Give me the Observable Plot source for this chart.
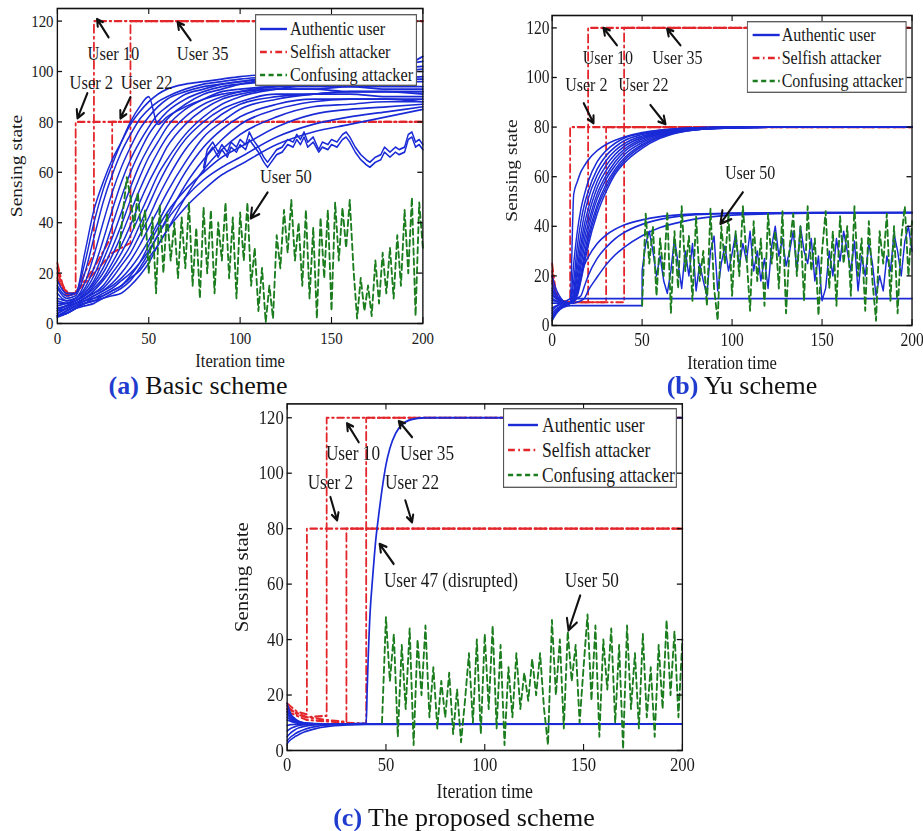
<!DOCTYPE html>
<html><head><meta charset="utf-8">
<script src="https://cdn.jsdelivr.net/npm/d3@7"></script>
<script src="https://cdn.jsdelivr.net/npm/@observablehq/plot@0.6"></script>
<style>
body{margin:0;background:#fff;}
#root{position:relative;width:923px;height:831px;overflow:hidden;background:#fff;font-family:"Liberation Serif","Times New Roman",serif;}
.panel{position:absolute;transform:scaleX(0.85);transform-origin:0 0;}
.panel svg{overflow:visible;}
.cap{position:absolute;font-size:26px;line-height:26px;color:#111;white-space:nowrap;transform:translateX(-50%);}
.cap b{color:#1f3ccf;}
</style></head><body><div id="root"></div>
<script>
// ---------- shared ----------
const xTicks = [0, 50, 100, 150, 200];
const yTicks = [0, 20, 40, 60, 80, 100, 120];
const legendLabels = ["Authentic user", "Selfish attacker", "Confusing attacker"];
const captionTags = ["(a)", "(b)", "(c)"];
const captionTexts = ["Basic scheme", "Yu scheme", "The proposed scheme"];

// ---------- panel (a) Basic scheme ----------
const gridA = [0,5,10,15,20,25,30,35,40,45,50,55,60,70,80,90,100,120,140,160,180,200];
const authenticA = [
  [17,12,12,28,45,56,65,72,79,84,88,91,93,95,96,97,98,99,100,101,102,104],
  [15,11,12,24,40,53,63,72,80,86,90,79,82,86,89,91,92,93,93,94,94,94],
  [14,10,11,20,34,48,59,68,75,81,85,88,90,93,95,96,97,98,99,100,100,101],
  [12,9,10,16,27,40,52,62,70,77,82,86,89,92,94,95,96,97,97,97,97,97],
  [10,9,10,14,22,33,45,56,65,72,78,83,86,91,93,95,96,98,99,100,101,102],
  [9,8,10,13,19,28,39,50,60,68,75,80,84,89,92,94,95,96,96,96,96,96],
  [8,8,9,12,17,25,34,44,54,63,70,76,81,87,91,93,95,97,98,99,100,100],
  [7,8,9,12,16,22,30,39,49,58,66,72,78,85,89,92,93,94,94,94,93,93],
  [6,7,9,11,15,20,27,35,44,53,61,68,74,82,87,90,92,94,95,96,97,98],
  [6,7,9,11,14,18,24,31,39,48,56,63,70,79,85,89,91,93,93,92,92,91],
  [5,7,8,10,13,17,22,28,35,43,51,59,65,75,82,87,90,93,95,97,99,106],
  [5,6,8,10,12,15,20,25,31,39,47,55,62,73,80,85,88,91,91,91,90,90],
  [4,6,8,10,12,14,18,23,28,35,42,50,57,69,77,83,87,90,91,92,92,92],
  [4,6,8,9,11,13,16,20,25,31,38,45,52,64,74,80,85,89,91,92,92,92],
  [3,5,7,9,11,13,15,18,22,27,33,40,47,60,70,77,82,87,89,89,89,89],
  [3,5,7,9,10,12,14,17,20,24,29,35,42,55,65,73,79,85,88,89,89,88],
  [3,5,7,8,10,11,13,15,18,21,26,31,37,50,61,69,75,82,86,87,88,88],
  [3,4,6,8,9,11,13,15,19,24,31,38,44,53,60,66,70,78,83,85,86,87],
  [3,4,6,8,9,10,12,14,17,22,28,35,41,50,57,62,66,74,79,82,84,86],
  [2.5,4,6,7,8,10,11,12,15,19,24,31,37,46,53,59,63,71,76,79,82,85]
];
const jaggedXA = [80,82,85,88,90,93,95,98,100,103,105,107,110,113,115,117,120,123,126,129,131,133,135,137,140,143,145,148,150,153,156,158,160,163,166,169,171,174,177,179,182,185,187,190,192,194,196,198,200];
const jaggedY1A = [62,69,72,68,71,68,72,70,73,71,76,73,70,66,64,66,69,70,73,72,75,73,76,72,74,69,72,71,73,72,75,76,74,70,67,65,64,66,67,70,68,70,69,70,75,76,72,73,71];
const jaggedY2A = [60,67,70,66,69,66,70,68,71,69,73,71,68,64,62,64,67,68,71,70,73,71,74,70,72,68,70,69,71,70,73,74,72,68,65,63,62,64,65,68,66,68,67,68,73,74,70,71,69];
const selfishXA = [[0,3,6,10,10,200],[0,3,6,10,15,20,20,200],[0,5,10,20,30,30,200],[0,5,10,20,30,40,40,200]];
const selfishYA = [[24,15,12,12,80,80],[22,14,11,12,20,28,120,120],[20,12,12,22,35,80,80],[18,11,12,20,28,32,120,120]];
const confusingStartA = 34;
const confusingA = [30,45,58,
  50,38,52,35,45, 20,42,12,47,20, 44,25,40,18,42, 22,48,15,38,10, 46,20,45,12,40,
  25,48,18,42,10, 44,25,48,15,30, 5,22,0.5,15,2, 35,22,45,28,49, 25,40,15,45,10,
  38,2,42,18,45, 5,48,25,46,30, 49,22,2,18,5, 15,3,25,8,28, 12,30,10,35,15,
  45,20,50,3,48, 30];
const noteLabelsA = ["User 10","User 35","User 2","User 22","User 50"];
const noteXA = [30.7,79.5,18.6,48.8,125];
const noteYA = [107,107,95.7,95.7,58.4];
const arrowFromXA = [28,72.9,16.4,40,115];
const arrowFromYA = [113.6,112.4,91.4,89.8,52];
const arrowToXA = [21.7,65.8,11,34.5,105.8];
const arrowToYA = [120.8,119.6,81.4,81.4,41.7];

// ---------- panel (b) Yu scheme ----------
const gridB = [0,2,4,6,8,10,12,14,16,18,20,25,30,35,40,50,60,70,80,100,120,150,200];
const authenticB = [
  [20,15,12,10,9.2,9,53,58,62,64.5,66.7,70.5,73,74.7,76,77.8,78.8,79.4,79.7,80,80,80,80],
  [17,13,11,9.8,9.2,9,25,38,47,53,58,66,70.5,73.5,75.5,77.5,78.7,79.3,79.7,80,80,80,80],
  [15,12,10.5,9.6,9.2,9,18,32,42,49,54,63,68.5,72,74.5,77,78.4,79.2,79.6,80,80,80,80],
  [13,11,10,9.4,9.1,9,14,27,37,45,51,60.5,66.5,70.5,73.3,76.4,78.1,79,79.5,79.9,80,80,80],
  [11,10,9.5,9.2,9,9,12,23,33,41,47,58,64.5,69,72.2,75.8,77.8,78.9,79.4,79.9,80,80,80],
  [9,9,9,9,9,9,11,20,30,38,44,55.5,62.5,67.5,71,75.2,77.5,78.7,79.3,79.8,80,80,80],
  [7,7.8,8.4,8.7,8.9,9,10,17,27,35,41,53,60.5,66,70,74.5,77.2,78.6,79.2,79.8,80,80,80],
  [5,6.5,7.6,8.3,8.7,9,10,15,24,32,38.5,51,59,64.5,68.8,73.8,76.8,78.4,79.1,79.8,80,80,80],
  [4,5.8,7,7.9,8.5,9,10,14,21,29,36,48.5,57,63,67.5,73,76.4,78.2,79,79.7,80,80,80],
  [3,5,6.5,7.6,8.4,9,10,13,19,27,34,47,55.5,62,66.5,72.3,76,78,78.9,79.7,80,80,80],
  [2,4.5,6.2,7.4,8.3,9,10,12,18,25,32,45,54,61,65.5,71.5,75.5,77.8,79,79.7,80,80,80],
  [14,12,10.5,9.8,9.3,9,10,14,20,24.5,27.5,33,36.5,38.8,40.5,42.6,43.9,44.6,45,45.3,45.4,45.5,45.5],
  [12,11,10,9.5,9.2,9,9.5,11,12,16,20,27,31.5,35,37.5,40.8,42.8,44,44.7,45.2,45.4,45.5,45.5],
  [10,9.8,9.5,9.3,9.1,9,9,9.5,10,11,14,19.5,24.5,28.5,31.5,36.2,39.5,41.5,43,44.5,45,45.3,45.5]
];
const flatXB = [0,2,4,6,8,10,200];
const flatYB = [6,7.5,8.5,9.3,10,10.8,10.8];
const user50HeadXB = [0,2,4,6,8,10,50];
const user50HeadYB = [3,5,6.5,7.3,7.8,8,8];
const user50StartB = 50;
const user50NoisyB = [22,33,38,30,20, 28,18,13,22,35, 25,15,30,20,33, 14,25,18,12,30,
  36,14,25,32,22, 29,37,24,33,26, 38,22,30,18,27, 15,32,40,28,35, 24,30,38,22,40,
  30,25,35,18,28, 10,15,30,20,35, 26,38,30,22,34, 14,28,20,33,25, 12,20,14,28,22,
  37,30,20,34,40, 30];
const selfishXB = [[0,2,5,10,10,200],[0,2,5,10,20,20,200],[0,2,5,10,30,30,200],[0,2,5,10,40,40,200]];
const selfishYB = [[25,14,10,9.4,80,80],[22,13,10,9.4,9.4,120,120],[20,12,9.5,9.4,9.4,80,80],[18,11,9.5,9.4,9.4,120,120]];
const confusingStartB = 50;
const confusingB = [8,45,25,40,12, 35,20,46,5,38, 15,48,22,36,10, 44,18,30,8,47,
  15,2,40,25,45, 12,38,20,48,28, 6,42,18,35,8, 45,25,38,15,46, 5,32,45,20,40,
  10,48,22,35,4, 30,46,15,38,8, 44,25,40,12,48, 20,35,6,42,18, 2,38,25,45,10,
  40,5,35,48,20, 42];
const noteLabelsB = ["User 10","User 35","User 2","User 22","User 50"];
const noteXB = [31,69.6,19,50.7,110];
const noteYB = [108,108,97,97,61.6];
const arrowFromXB = [36,71.3,17.6,54.6,106];
const arrowFromYB = [113,113,89.6,88.9,53.7];
const arrowToXB = [28.5,63.9,23,63,93.5];
const arrowToYB = [120,119.6,81.6,81.2,41];

// ---------- panel (c) The proposed scheme ----------
const gridC = [0,2,4,6,8,10,15,20,30,40,200];
const authenticC = [
  [17,13,11.5,10.5,10,9.8,9.6,9.5,9.5,9.5,9.5],
  [15,12.5,11,10.3,10,9.8,9.6,9.5,9.5,9.5,9.5],
  [14,12,10.8,10.2,9.9,9.7,9.5,9.5,9.5,9.5,9.5],
  [13,11.5,10.5,10,9.8,9.6,9.5,9.5,9.5,9.5,9.5],
  [11,10.5,10,9.8,9.6,9.5,9.5,9.5,9.5,9.5,9.5],
  [9,9.3,9.4,9.5,9.5,9.5,9.5,9.5,9.5,9.5,9.5],
  [7,8,8.6,9,9.2,9.3,9.4,9.5,9.5,9.5,9.5],
  [5,6.5,7.5,8.2,8.6,8.9,9.3,9.4,9.5,9.5,9.5],
  [3.5,5,6,6.8,7.4,7.9,8.7,9.1,9.4,9.5,9.5],
  [2.5,4,5,5.8,6.5,7,8,8.6,9.2,9.4,9.5]
];
const user47XC = [0,2,4,6,8,10,15,20,30,40,40.5,41,42,43,44,45,46,48,50,52,55,58,62,66,70,80,200];
const user47YC = [12,11,10.5,10.2,10,9.8,9.6,9.5,9.5,9.8,22,33,50,60,69,77,83,94,103,109,114.5,117.5,119.2,119.8,120,120,120];
const selfishXC = [[0,5,10,10,200],[0,5,10,20,20,200],[0,10,20,30,30,200],[0,10,20,30,40,40,200]];
const selfishYC = [[17,14,13,80,80],[16,13,12,12.5,120,120],[15,12,11,10.3,80,80],[14,11,10.5,10,9.7,120,120]];
const confusingStartC = 48;
const confusingC = [10,
  48,25,42,5,38, 15,44,2,40,20, 45,12,30,8,25, 12,28,6,22,3, 18,35,10,40,6,
  42,15,45,8,38, 2,30,12,35,15, 28,18,33,20,35, 15,2,47,20,40, 8,43,25,38,10,
  30,49,18,45,5, 40,22,44,10,38, 0.5,45,15,35,8, 42,12,30,5,38, 15,47,20,43,12,
  40];
const noteLabelsC = ["User 10","User 35","User 2","User 22","User 47 (disrupted)","User 50"];
const noteXC = [33.3,70.8,21.9,63.2,82.9,154.2];
const noteYC = [107,107,96.8,96.8,61.3,61.3];
const arrowFromXC = [36.2,63.2,21.9,59.8,53.9,148.3];
const arrowFromYC = [111.2,113,91.4,90.2,67.3,55.9];
const arrowToXC = [30.3,56.5,25.3,63.2,46.8,142.4];
const arrowToYC = [118,118.8,83,82.3,74.5,43.3];

// ---------- drawing ----------
const SERIF = '"Liberation Serif","Times New Roman",serif';
const BLUE = "#1a2ad6", RED = "#e3262b", GREEN = "#1c7d1f";
const RED_DASH = "8,4,2,4", GREEN_DASH = "6,4";
const legendColors = [BLUE, RED, GREEN];
const legendDash = [null, RED_DASH, GREEN_DASH];

function pathsToRows(xss, yss) {
  return xss.flatMap((xs, i) => xs.map((x, j) => ({x, y: yss[i][j], id: i})));
}
function gridToRows(grid, curves) {
  return curves.flatMap((ys, i) => ys.map((y, j) => ({x: grid[j], y, id: i})));
}
function stepToRows(start, ys) {
  return ys.map((y, j) => ({x: start + 2 * j, y}));
}

function legendNode(lg) {
  const svg = d3.create("svg").attr("width", lg.w).attr("height", lg.h)
    .style("position", "absolute").style("left", lg.left + "px").style("top", lg.top + "px");
  svg.append("rect").attr("x", 0.7).attr("y", 0.7).attr("width", lg.w - 1.4).attr("height", lg.h - 1.4)
    .attr("fill", "#fff").attr("stroke", "#555").attr("stroke-width", 1.3);
  legendLabels.forEach((t, i) => {
    const y = lg.rows[i];
    const ln = svg.append("line").attr("x1", lg.l1).attr("x2", lg.l2).attr("y1", y).attr("y2", y)
      .attr("stroke", legendColors[i]).attr("stroke-width", 2.4);
    if (legendDash[i]) ln.attr("stroke-dasharray", legendDash[i]);
    svg.append("text").attr("x", lg.tx).attr("y", y).attr("dy", "0.33em")
      .attr("font-size", lg.fs).attr("font-family", SERIF).attr("fill", "#1a1a1a").text(t);
  });
  return svg.node();
}

function buildPanel(p) {
  const innerW = p.width - p.ml - p.mr, innerH = p.height - p.mt - p.mb;
  const notes = p.noteLabels.map((t, i) => ({t, tx: p.noteX[i], ty: p.noteY[i],
    x1: p.fromX[i], y1: p.fromY[i], x2: p.toX[i], y2: p.toY[i]}));
  const tickStyle = {stroke: "#111", strokeWidth: 1.3};
  const plot = Plot.plot({
    width: p.width, height: p.height,
    marginLeft: p.ml, marginRight: p.mr, marginTop: p.mt, marginBottom: p.mb,
    style: {fontFamily: SERIF, color: "#1a1a1a", background: "transparent", overflow: "visible"},
    x: {domain: [0, 200]},
    y: {domain: [0, 125]},
    marks: [
      Plot.line(p.red, {x: "x", y: "y", z: "id", stroke: RED, strokeWidth: 2.1, strokeDasharray: RED_DASH}),
      Plot.line(p.blue, {x: "x", y: "y", z: "id", stroke: BLUE, strokeWidth: 1.7, curve: "monotone-x"}),
      ...p.extra,
      Plot.line(p.green, {x: "x", y: "y", stroke: GREEN, strokeWidth: 2.2, strokeDasharray: GREEN_DASH}),
      Plot.ruleX(xTicks, {x: d => d, insetTop: innerH - 6, ...tickStyle}),
      Plot.ruleX(xTicks, {x: d => d, insetBottom: innerH - 6, ...tickStyle}),
      Plot.ruleY(yTicks, {y: d => d, insetRight: innerW - 6, ...tickStyle}),
      Plot.ruleY(yTicks, {y: d => d, insetLeft: innerW - 6, ...tickStyle}),
      Plot.frame({stroke: "#111", strokeWidth: 1.6}),
      Plot.axisX(xTicks, {tickSize: 0, tickPadding: p.xPad, fontSize: p.tickFs,
        label: null}),
      Plot.axisX([], {tickSize: 0, fontSize: p.labFs, label: "Iteration time", labelAnchor: "center",
        labelOffset: p.xLabOff, labelArrow: "none"}),
      Plot.axisY(yTicks, {tickSize: 0, tickPadding: p.yPad, fontSize: p.tickFs, label: null}),
      Plot.axisY([], {tickSize: 0, fontSize: p.labFs, label: "Sensing state", labelAnchor: "center",
        labelOffset: p.yLabOff, labelArrow: "none"}),
      Plot.arrow(notes, {x1: "x1", y1: "y1", x2: "x2", y2: "y2", stroke: "#111", strokeWidth: 2.4, headLength: 10}),
      Plot.text(notes, {x: "tx", y: "ty", text: "t", fontSize: p.noteFs, fill: "#1a1a1a"})
    ]
  });
  const div = document.createElement("div");
  div.className = "panel";
  div.style.left = p.left + "px";
  div.style.top = p.top + "px";
  div.style.width = p.width + "px";
  div.style.height = p.height + "px";
  div.appendChild(plot);
  div.appendChild(legendNode(p.legend));
  return div;
}

const root = document.getElementById("root");

// panel (a)
root.appendChild(buildPanel({
  left: 0, top: 0, width: 508, height: 373, ml: 67, mr: 11, mt: 8, mb: 50,
  tickFs: 17.5, labFs: 19.5, noteFs: 19.4, xPad: 8, yPad: 4.5, xLabOff: 43, yLabOff: 55,
  red: pathsToRows(selfishXA, selfishYA),
  blue: gridToRows(gridA, authenticA),
  extra: [
    Plot.line(pathsToRows([jaggedXA, jaggedXA], [jaggedY1A, jaggedY2A]), {x: "x", y: "y", z: "id", stroke: BLUE, strokeWidth: 1.7})
  ],
  green: stepToRows(confusingStartA, confusingA),
  noteLabels: noteLabelsA, noteX: noteXA, noteY: noteYA,
  fromX: arrowFromXA, fromY: arrowFromYA, toX: arrowToXA, toY: arrowToYA,
  legend: {left: 300, top: 14, w: 190.6, h: 72, rows: [15, 38, 61], l1: 5.9, l2: 37.6, tx: 41.2, fs: 19.1}
}));

// panel (b)
const user50B = [
  ...user50HeadXB.map((x, j) => ({x, y: user50HeadYB[j]})),
  ...stepToRows(user50StartB, user50NoisyB)
];
root.appendChild(buildPanel({
  left: 490, top: 0, width: 506, height: 375, ml: 72.6, mr: 10, mt: 15, mb: 50,
  tickFs: 18.3, labFs: 19.5, noteFs: 18.9, xPad: 8, yPad: 3, xLabOff: 43, yLabOff: 55,
  red: pathsToRows(selfishXB, selfishYB),
  blue: gridToRows(gridB, authenticB),
  extra: [
    Plot.line(flatXB.map((x, j) => ({x, y: flatYB[j]})), {x: "x", y: "y", stroke: BLUE, strokeWidth: 1.7}),
    Plot.line(user50B, {x: "x", y: "y", stroke: BLUE, strokeWidth: 1.7})
  ],
  green: stepToRows(confusingStartB, confusingB),
  noteLabels: noteLabelsB, noteX: noteXB, noteY: noteYB,
  fromX: arrowFromXB, fromY: arrowFromYB, toX: arrowToXB, toY: arrowToYB,
  legend: {left: 302.4, top: 21, w: 188.2, h: 72, rows: [14, 37, 60], l1: 7, l2: 38.8, tx: 41.1, fs: 18.9}
}));

// panel (c)
root.appendChild(buildPanel({
  left: 225, top: 400, width: 547.6, height: 400, ml: 72.6, mr: 10, mt: 3.4, mb: 50,
  tickFs: 19.6, labFs: 21, noteFs: 20.3, xPad: 7, yPad: 4, xLabOff: 48, yLabOff: 61,
  red: pathsToRows(selfishXC, selfishYC),
  blue: gridToRows(gridC, authenticC),
  extra: [
    Plot.line(user47XC.map((x, j) => ({x, y: user47YC[j]})), {x: "x", y: "y", stroke: BLUE, strokeWidth: 2, curve: "monotone-x"})
  ],
  green: stepToRows(confusingStartC, confusingC),
  noteLabels: noteLabelsC, noteX: noteXC, noteY: noteYC,
  fromX: arrowFromXC, fromY: arrowFromYC, toX: arrowToXC, toY: arrowToYC,
  legend: {left: 327, top: 8, w: 204.7, h: 80, rows: [17, 42, 67], l1: 6, l2: 41.2, tx: 46, fs: 20.6}
}));

// captions
[[198, 373], [742, 373], [464, 805]].forEach(([cx, cy], i) => {
  const d = document.createElement("div");
  d.className = "cap";
  d.style.left = cx + "px";
  d.style.top = cy + "px";
  const b = document.createElement("b");
  b.textContent = captionTags[i];
  d.appendChild(b);
  d.appendChild(document.createTextNode(" " + captionTexts[i]));
  root.appendChild(d);
});
</script></body></html>
